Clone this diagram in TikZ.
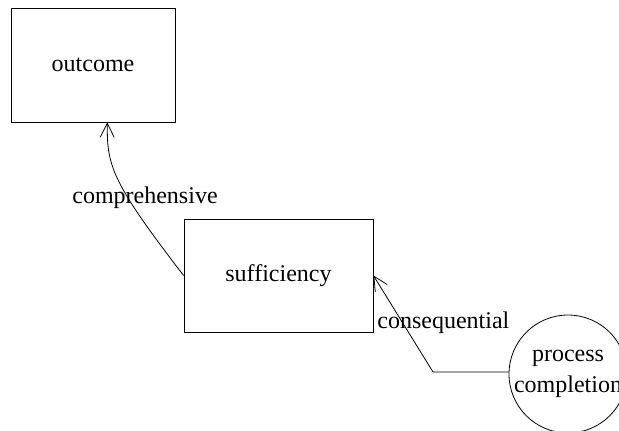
\documentclass[tikz,border=0pt]{standalone}
\usepackage{fontspec}
\setmainfont{Liberation Serif}
\usetikzlibrary{arrows.meta, positioning}
\tikzset{
    caja/.style={draw, inner sep=0pt, font=\fontsize{12}{15.5}\selectfont},
    burbuja/.style={draw, circle, inner sep=0pt, minimum size=59pt, align=center, font=\fontsize{12}{15.5}\selectfont},
    etiqueta/.style={inner sep=0pt, font=\fontsize{12}{15.5}\selectfont},
    flecha/.style={-{Straight Barb[length=7pt,width=7pt]}},
}

\begin{document}
\begin{tikzpicture}[x=0.5pt, y=-0.5pt]
\useasboundingbox (0,0) rectangle (619,430);
\node[caja, minimum width=82pt, minimum height=57pt] (outcome) at (93,65) {outcome};
\node[caja, minimum width=94.5pt, minimum height=56.5pt] (sufficiency) at (278.5,275.5) {sufficiency};
\node[burbuja] (completion) at (568,374) {process\\completion};
\coordinate (codo) at (433,372);
\draw[flecha] (sufficiency.west) .. controls (110,180) and (107,165) .. (outcome.-76);
\draw[flecha] (completion.178) -- (codo) -- (sufficiency.east);
\node[etiqueta] (comprehensive) at (145,198) {comprehensive};
\node[etiqueta, anchor=west] (consequential) at (377,323) {consequential};
\end{tikzpicture}
\end{document}
